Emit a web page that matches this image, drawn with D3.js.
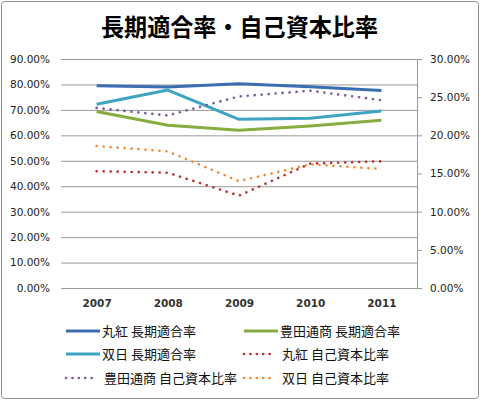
<!DOCTYPE html>
<html>
<head>
<meta charset="utf-8">
<script src="https://cdn.jsdelivr.net/npm/d3@7"></script>
<style>
	body { margin: 0; background: #fff; }
	svg text { font-family: "DejaVu Sans", sans-serif; }
	.jp { font-family: "Noto Sans CJK JP", sans-serif; }
</style>
</head>
<body>
<svg id="chart" width="480" height="401"></svg>
<script>
// data
const years = ["2007", "2008", "2009", "2010", "2011"];
const leftTicks = [0, 0.1, 0.2, 0.3, 0.4, 0.5, 0.6, 0.7, 0.8, 0.9];
const rightTicks = [0, 0.05, 0.1, 0.15, 0.2, 0.25, 0.3];

// 長期適合率 (left axis)
const marubeniLong = [0.795, 0.790, 0.803, 0.791, 0.776];
const toyotaLong = [0.694, 0.640, 0.620, 0.637, 0.659];
const sojitzLong = [0.722, 0.778, 0.663, 0.667, 0.696];
// 自己資本比率 (right axis)
const marubeniEquity = [0.153, 0.151, 0.121, 0.163, 0.166];
const toyotaEquity = [0.236, 0.226, 0.251, 0.2585, 0.246];
const sojitzEquity = [0.186, 0.179, 0.140, 0.162, 0.156];

const series = [
	{ name: "丸紅 長期適合率", values: marubeniLong, axis: "left", color: "#3b6db3", dotted: false },
	{ name: "豊田通商 長期適合率", values: toyotaLong, axis: "left", color: "#87ad40", dotted: false },
	{ name: "双日 長期適合率", values: sojitzLong, axis: "left", color: "#3fa3c2", dotted: false },
	{ name: "丸紅 自己資本比率", values: marubeniEquity, axis: "right", color: "#b8302f", dotted: true },
	{ name: "豊田通商 自己資本比率", values: toyotaEquity, axis: "right", color: "#7a58a3", dotted: true },
	{ name: "双日 自己資本比率", values: sojitzEquity, axis: "right", color: "#f28a34", dotted: true }
];

const svg = d3.select("#chart");
const margin = { top: 59, left: 61, right: 63, bottom: 113 };
const width = 480 - margin.left - margin.right,
	height = 401 - margin.top - margin.bottom;

svg.append("rect")
	.attr("x", 1.5).attr("y", 1.5)
	.attr("width", 477).attr("height", 397)
	.attr("rx", 3)
	.attr("fill", "#fff")
	.attr("stroke", "#8c8c8c");

svg.append("text")
	.attr("class", "jp")
	.attr("x", 101).attr("y", 36)
	.attr("font-size", 24)
	.attr("font-weight", "bold")
	.attr("textLength", 277)
	.attr("lengthAdjust", "spacingAndGlyphs")
	.attr("fill", "#000")
	.text("長期適合率・自己資本比率");

const g = svg.append("g")
	.attr("transform", "translate(" + margin.left + "," + margin.top + ")");

const x = d3.scalePoint().domain(years).range([0, width]).padding(0.5);
const yL = d3.scaleLinear().domain([0, 0.9]).range([height, 0]);
const yR = d3.scaleLinear().domain([0, 0.3]).range([height, 0]);
const fmt = d3.format(".2%");

// gridlines + left labels
const yAxisL = g.append("g")
	.call(d3.axisLeft(yL).tickValues(leftTicks).tickFormat(fmt)
		.tickSize(-width).tickPadding(11));
yAxisL.select(".domain").remove();
yAxisL.selectAll("line").attr("stroke", "#999");
yAxisL.selectAll("text").attr("font-size", 10.5).attr("fill", "#222");

const yAxisR = g.append("g")
	.attr("transform", "translate(" + width + ",0)")
	.call(d3.axisRight(yR).tickValues(rightTicks).tickFormat(fmt)
		.tickSize(5).tickSizeOuter(0).tickPadding(8));
yAxisR.select(".domain").attr("stroke", "#999");
yAxisR.selectAll("line").attr("stroke", "#999");
yAxisR.selectAll("text").attr("font-size", 10.5).attr("fill", "#222");

const xAxis = g.append("g")
	.attr("transform", "translate(0," + height + ")")
	.call(d3.axisBottom(x).tickSize(0).tickPadding(12));
xAxis.select(".domain").remove();
xAxis.selectAll("text").attr("font-size", 10.5).attr("font-weight", "bold").attr("fill", "#333");

series.forEach(s => {
	const yScale = s.axis === "left" ? yL : yR;
	const line = d3.line()
		.x((d, i) => x(years[i]))
		.y(d => yScale(d));
	const path = g.append("path")
		.datum(s.values)
		.attr("fill", "none")
		.attr("stroke", s.color)
		.attr("d", line);
	if (s.dotted) {
		path.attr("stroke-width", 2.6)
			.attr("stroke-linecap", "round")
			.attr("stroke-dasharray", "0.1,6.9");
	} else {
		path.attr("stroke-width", 3)
			.attr("stroke-linejoin", "round");
	}
});

// legend
const legendCols = [66, 244];
const legendRows = [331, 354, 378];
series.forEach((s, i) => {
	const lx = legendCols[i % 2], ly = legendRows[Math.floor(i / 2)];
	const item = svg.append("g").attr("transform", "translate(" + lx + "," + ly + ")");
	const ln = item.append("line")
		.attr("x1", 0).attr("x2", s.dotted ? 32 : 34)
		.attr("y1", 0).attr("y2", 0)
		.attr("stroke", s.color);
	if (s.dotted) {
		ln.attr("stroke-width", 2.6).attr("stroke-linecap", "round").attr("stroke-dasharray", "0.1,6.3");
	} else {
		ln.attr("stroke-width", 3);
	}
	item.append("text")
		.attr("class", "jp")
		.attr("x", s.dotted ? 38 : 36).attr("y", 0)
		.attr("dy", "0.35em")
		.attr("font-size", 13)
		.attr("fill", "#111")
		.text(s.name);
});
</script>
</body>
</html>
